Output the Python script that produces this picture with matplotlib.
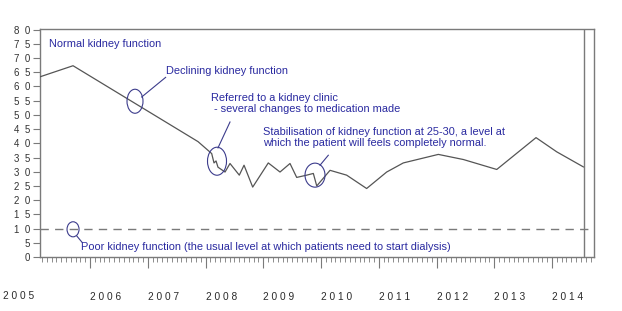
import matplotlib.pyplot as plt
from matplotlib.patches import Ellipse
import numpy as np

# kidney function readings (decimal year, value)
years = [2005.134, 2005.706, 2007.870, 2008.107, 2008.147, 2008.182, 2008.216,
         2008.338, 2008.424, 2008.585, 2008.667, 2008.817, 2009.087, 2009.290,
         2009.463, 2009.579, 2009.752, 2009.867, 2009.926, 2010.156, 2010.444,
         2010.790, 2011.137, 2011.425, 2012.031, 2012.465, 2013.043, 2013.723,
         2014.082, 2014.543]
values = [63.4, 67.3, 40.6, 36.4, 33.1, 33.8, 31.6,
          29.9, 32.9, 28.8, 32.3, 24.6, 33.1, 29.9,
          32.9, 28.0, 28.8, 29.4, 25.0, 30.5, 28.8,
          24.1, 29.9, 33.1, 36.1, 34.3, 30.8, 42.0,
          37.0, 31.7]
dialysis_level = 10
year_labels = [2006, 2007, 2008, 2009, 2010, 2011, 2012, 2013, 2014]
y_ticks = list(range(0, 85, 5))

# notes: text, text pos, ellipse centre/size, leader line
notes = [
    ("Normal kidney function", (2005.29, 74.9), None, None),
    ("Declining kidney function", (2007.316, 65.4),
     ((2006.779, 54.8), 0.277, 8.45), ((2006.895, 56.3), (2007.309, 63.2))),
    ("Referred to a kidney clinic\n - several changes to medication made", (2008.095, 57.6),
     ((2008.199, 33.7), 0.329, 9.86), ((2008.216, 38.4), (2008.424, 47.5))),
    ("Stabilisation of kidney function at 25-30, a level at\nwhich the patient will feels completely normal.",
     (2008.996, 45.6),
     ((2009.896, 28.8), 0.346, 8.45), ((2009.983, 32.3), (2010.126, 35.8))),
    ("Poor kidney function (the usual level at which patients need to start dialysis)",
     (2005.844, 3.4),
     ((2005.706, 9.75), 0.208, 5.3), ((2005.775, 7.3), (2005.861, 5.2))),
]

plt.rcParams['font.family'] = ['Liberation Sans', 'DejaVu Sans']
blue = '#2a2aa0'
grey = '#7a7a7a'

fig = plt.figure(figsize=(6.22, 3.11), dpi=100)
ax = fig.add_axes([40/622, 1-257/311, 554/622, 228.5/311])

ax.plot(years, values, color='#555555', lw=0.9, zorder=4)
ax.axhline(dialysis_level, color=grey, lw=1, dashes=(6, 4.5), zorder=4)
ax.axvline(2014.56, color=grey, lw=1, zorder=4)

for s in ax.spines.values():
    s.set_color(grey)
    s.set_linewidth(1)

ax.set_yticks(y_ticks)
ax.set_yticklabels(["  ".join(str(v)) for v in y_ticks])
ax.tick_params(axis='y', length=5, width=0.8, color=grey, pad=2,
               labelsize=7, labelcolor='#333333')

ax.set_xticks(year_labels)
ax.set_xticklabels([" ".join(str(y)) for y in year_labels])
ax.set_xticks(np.arange(2005, 2015, 1/12), minor=True)
ax.tick_params(axis='x', which='major', length=8, width=0.8, color=grey,
               pad=17, labelsize=7.3, labelcolor='#2a2a2a')
ax.tick_params(axis='x', which='minor', length=3.5, width=0.6, color=grey)
for lab in ax.get_xticklabels():
    lab.set_ha('left')
fig.text(3/622, 1-291/311, "2 0 0 5", fontsize=7.3, color='#2a2a2a', va='top')

# limits after ticks, otherwise set_xticks widens them
ax.set_xlim(2005.134, 2014.727)
ax.set_ylim(0, 80.4)

for text, pos, ell, line in notes:
    va = 'top' if '\n' in text else 'center'
    ax.text(pos[0], pos[1], text, color=blue, fontsize=7.9, va=va, ha='left',
            linespacing=1.1, zorder=2,
            bbox=dict(facecolor='white', edgecolor='none', pad=1))
    if ell is not None:
        ax.add_patch(Ellipse(ell[0], ell[1], ell[2], fill=False,
                             edgecolor='#3c3c8c', lw=0.8, zorder=5))
        ax.plot([line[0][0], line[1][0]], [line[0][1], line[1][1]],
                color='#3c3c8c', lw=0.8, zorder=5)

fig.savefig('out.png', dpi=100)
